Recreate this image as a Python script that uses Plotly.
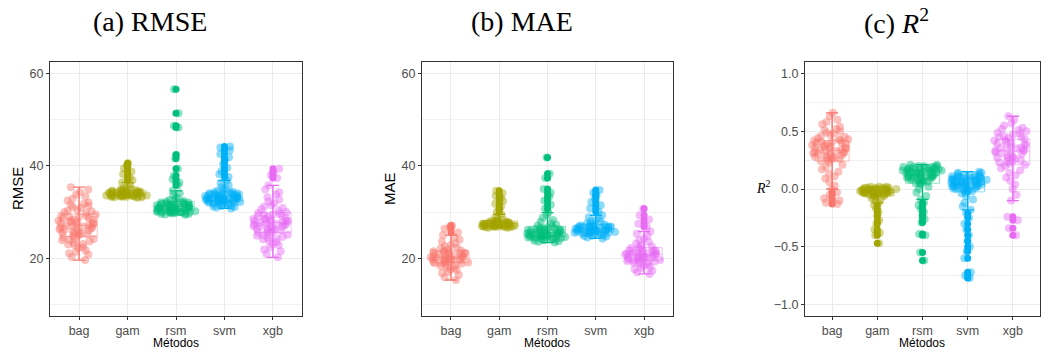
import numpy as np
import plotly.graph_objects as go

methods = ["bag", "gam", "rsm", "svm", "xgb"]
colors = ["#F8766D", "#A3A500", "#00BF7D", "#00B0F6", "#E76BF3"]

rmse_ticks = [20, 40, 60]
r2_ticks = [-1.0, -0.5, 0.0, 0.5, 1.0]

rmse_bag = [19.6, 20.3, 20.8, 21.4, 21.7, 22.2, 22.4, 22.9, 23.1, 23.4, 23.7, 23.9, 24.2, 24.4, 24.5,
            24.8, 25.0, 25.2, 25.3, 25.6, 25.7, 25.9, 26.1, 26.2, 26.3, 26.6, 26.7, 26.8, 27.0, 27.1,
            27.3, 27.4, 27.6, 27.8, 27.9, 28.1, 28.2, 28.4, 28.6, 28.7, 28.9, 29.1, 29.2, 29.5, 29.8,
            30.0, 30.3, 30.5, 30.9, 31.1, 31.4, 31.8, 32.1, 32.5, 32.9, 33.4, 33.8, 34.3, 34.9, 35.4,
            23.0, 24.0, 25.4, 26.0, 26.5, 27.2, 27.7, 28.3, 29.0, 30.2, 31.6, 21.1]
rmse_gam = [33.1, 33.2, 33.2, 33.3, 33.3, 33.3, 33.4, 33.4, 33.5, 33.5, 33.5, 33.6, 33.6, 33.6, 33.7,
            33.7, 33.8, 33.8, 33.8, 33.9, 33.9, 34.0, 34.0, 34.0, 34.1, 34.1, 34.2, 34.2, 34.2, 34.3,
            34.3, 34.4, 34.4, 34.5, 34.5, 34.6, 34.6, 34.7, 34.8, 34.8, 34.9, 35.0, 35.2, 35.5, 35.9,
            36.4, 36.9, 37.5, 38.2, 38.8, 39.5, 40.1, 40.6, 33.3, 33.5, 33.7, 33.9, 34.1, 34.3, 34.5]
rmse_rsm = [29.4, 29.5, 29.6, 29.7, 29.7, 29.8, 29.9, 29.9, 30.0, 30.0, 30.1, 30.1, 30.2, 30.2, 30.3,
            30.3, 30.4, 30.4, 30.5, 30.5, 30.6, 30.6, 30.7, 30.7, 30.8, 30.8, 30.9, 30.9, 31.0, 31.0,
            31.1, 31.1, 31.2, 31.3, 31.3, 31.4, 31.4, 31.5, 31.6, 31.6, 31.7, 31.8, 31.8, 31.9, 32.0,
            32.1, 32.1, 32.2, 32.3, 32.4, 32.6, 32.9, 33.2, 33.6, 34.1, 34.6, 35.8, 36.4, 37.1, 37.9,
            39.4, 41.6, 42.4, 48.3, 48.7, 51.4, 56.6, 30.0, 30.4, 30.8, 31.2, 31.5, 31.9, 29.6]
rmse_svm = [30.8, 31.0, 31.1, 31.2, 31.3, 31.4, 31.5, 31.6, 31.7, 31.8, 31.9, 32.0, 32.0, 32.1, 32.2,
            32.3, 32.3, 32.4, 32.5, 32.5, 32.6, 32.7, 32.7, 32.8, 32.9, 32.9, 33.0, 33.1, 33.1, 33.2,
            33.3, 33.3, 33.4, 33.5, 33.5, 33.6, 33.7, 33.8, 33.8, 33.9, 34.0, 34.1, 34.2, 34.3, 34.4,
            34.6, 34.8, 35.1, 35.4, 35.8, 36.3, 36.8, 37.6, 38.2, 38.9, 39.6, 40.4, 41.2, 41.9, 42.6,
            43.4, 44.0, 44.2, 32.1, 32.4, 32.6, 32.8, 33.0, 33.2, 33.4, 33.6, 33.9, 34.1, 33.0, 32.6]
rmse_xgb = [20.2, 20.9, 21.5, 21.9, 22.4, 22.8, 23.1, 23.5, 23.8, 24.1, 24.4, 24.6, 24.9, 25.1, 25.3,
            25.5, 25.8, 26.0, 26.2, 26.4, 26.6, 26.8, 26.9, 27.1, 27.3, 27.4, 27.6, 27.8, 27.9, 28.1,
            28.3, 28.4, 28.6, 28.8, 29.0, 29.2, 29.4, 29.6, 29.8, 30.0, 30.3, 30.6, 30.9, 31.2, 31.5,
            31.9, 32.3, 32.7, 33.2, 33.8, 34.3, 34.9, 35.8, 37.4, 38.0, 38.7, 39.4,
            24.3, 25.0, 25.6, 26.1, 26.5, 27.0, 27.5, 28.0, 28.5, 29.1, 29.5, 26.9, 27.7, 28.2]

mae_bag = [15.3, 15.9, 16.4, 16.8, 17.1, 17.4, 17.6, 17.9, 18.1, 18.3, 18.5, 18.7, 18.8, 18.9, 19.0,
           19.2, 19.3, 19.4, 19.5, 19.6, 19.8, 19.9, 20.0, 20.1, 20.2, 20.3, 20.4, 20.5, 20.6, 20.8,
           20.9, 21.0, 21.1, 21.2, 21.3, 21.4, 21.5, 21.6, 21.7, 21.9, 22.1, 22.3, 22.6, 22.9, 23.2,
           23.6, 24.0, 24.5, 25.0, 25.6, 26.4, 26.8, 27.1, 19.1, 19.7, 20.2, 20.7, 21.2, 20.0, 19.4]
mae_gam = [26.6, 26.6, 26.7, 26.7, 26.8, 26.8, 26.8, 26.9, 26.9, 26.9, 27.0, 27.0, 27.0, 27.1, 27.1,
           27.1, 27.2, 27.2, 27.3, 27.3, 27.3, 27.4, 27.4, 27.5, 27.5, 27.5, 27.6, 27.6, 27.7, 27.7,
           27.8, 27.8, 27.9, 27.9, 28.0, 28.1, 28.2, 28.4, 28.6, 28.9, 29.5, 30.0, 30.6, 31.2, 31.8,
           32.4, 33.0, 33.5, 34.1, 34.6, 27.2, 27.4, 27.6, 27.8, 27.0, 26.9, 27.3, 27.5]
mae_rsm = [23.4, 23.6, 23.7, 23.8, 23.9, 24.0, 24.1, 24.2, 24.2, 24.3, 24.4, 24.4, 24.5, 24.6, 24.6,
           24.7, 24.8, 24.9, 24.9, 25.0, 25.1, 25.2, 25.2, 25.3, 25.4, 25.5, 25.5, 25.6, 25.7, 25.8,
           25.9, 26.0, 26.1, 26.2, 26.3, 26.4, 26.5, 26.6, 26.7, 26.9, 27.1, 27.3, 27.6, 27.9, 28.3,
           28.8, 29.3, 29.9, 30.7, 31.6, 32.5, 33.3, 34.2, 35.0, 37.4, 38.3, 41.8,
           24.8, 25.0, 25.3, 25.6, 25.9, 26.2, 26.4, 25.1, 24.7, 25.7, 26.0, 24.3]
mae_svm = [24.3, 24.5, 24.7, 24.8, 24.9, 25.0, 25.1, 25.2, 25.3, 25.3, 25.4, 25.5, 25.5, 25.6, 25.7,
           25.7, 25.8, 25.9, 25.9, 26.0, 26.1, 26.1, 26.2, 26.3, 26.3, 26.4, 26.5, 26.5, 26.6, 26.7,
           26.7, 26.8, 26.9, 26.9, 27.0, 27.1, 27.2, 27.3, 27.4, 27.6, 27.8, 28.0, 28.3, 28.6, 28.9,
           29.3, 30.1, 30.8, 31.5, 32.2, 32.9, 33.6, 34.2, 34.8, 25.4, 25.8, 26.0, 26.2, 26.4, 26.6,
           26.8, 27.0]
mae_xgb = [16.6, 17.0, 17.3, 17.6, 17.9, 18.1, 18.3, 18.6, 18.8, 19.0, 19.1, 19.3, 19.4, 19.5, 19.7,
           19.8, 19.9, 20.1, 20.2, 20.3, 20.4, 20.6, 20.7, 20.8, 20.9, 21.0, 21.2, 21.3, 21.4, 21.6,
           21.7, 21.9, 22.0, 22.2, 22.4, 22.6, 22.9, 23.2, 23.5, 23.9, 24.3, 24.8, 25.3, 25.8, 26.8,
           27.5, 28.4, 29.3, 30.7, 19.6, 20.0, 20.5, 21.1, 21.5, 21.8, 20.8, 19.2, 20.3, 21.0]

r2_bag = [-0.13, -0.12, -0.10, -0.08, -0.05, -0.03, 0.00, 0.03, 0.06, 0.09, 0.11, 0.13, 0.15, 0.17,
          0.19, 0.21, 0.23, 0.24, 0.25, 0.26, 0.27, 0.28, 0.29, 0.30, 0.31, 0.32, 0.33, 0.33, 0.34,
          0.35, 0.36, 0.36, 0.37, 0.38, 0.39, 0.39, 0.40, 0.41, 0.41, 0.42, 0.43, 0.44, 0.45, 0.46,
          0.47, 0.48, 0.49, 0.50, 0.51, 0.52, 0.54, 0.56, 0.58, 0.60, 0.63, 0.66,
          0.26, 0.28, 0.30, 0.32, 0.34, 0.35, 0.37, 0.38, 0.40, 0.42, 0.43, 0.29, 0.31, 0.27]
r2_gam = [-0.47, -0.40, -0.38, -0.35, -0.30, -0.27, -0.23, -0.20, -0.17, -0.14, -0.12, -0.10, -0.09,
          -0.08, -0.07, -0.06, -0.06, -0.05, -0.05, -0.05, -0.04, -0.04, -0.04, -0.04, -0.03, -0.03,
          -0.03, -0.03, -0.03, -0.02, -0.02, -0.02, -0.02, -0.02, -0.01, -0.01, -0.01, -0.01, -0.01,
          -0.01, 0.00, 0.00, 0.00, 0.00, 0.00, 0.00, 0.01, 0.01, 0.01, 0.01, 0.01, 0.02, 0.02, 0.02,
          -0.05, -0.04, -0.03, -0.02, -0.01, -0.04, -0.03, -0.02]
r2_rsm = [-0.62, -0.55, -0.40, -0.39, -0.29, -0.26, -0.23, -0.20, -0.17, -0.14, -0.12, -0.09, -0.06,
          -0.03, 0.00, 0.02, 0.04, 0.05, 0.06, 0.07, 0.08, 0.08, 0.09, 0.10, 0.10, 0.11, 0.11, 0.12,
          0.12, 0.13, 0.13, 0.14, 0.14, 0.15, 0.15, 0.15, 0.16, 0.16, 0.16, 0.17, 0.17, 0.17, 0.18,
          0.18, 0.18, 0.19, 0.19, 0.19, 0.20, 0.20, 0.20, 0.21, 0.21,
          0.06, 0.07, 0.09, 0.10, 0.11, 0.12, 0.13, 0.14, 0.15, 0.16, 0.17, 0.18, 0.19, 0.08, 0.12,
          0.14, 0.16, 0.05, 0.09, 0.11]
r2_svm = [-0.77, -0.75, -0.72, -0.60, -0.54, -0.50, -0.45, -0.40, -0.35, -0.30, -0.25, -0.21, -0.18,
          -0.15, -0.12, -0.09, -0.06, -0.04, -0.03, -0.02, -0.01, 0.00, 0.00, 0.01, 0.02, 0.02, 0.03,
          0.03, 0.04, 0.04, 0.05, 0.05, 0.06, 0.06, 0.07, 0.07, 0.08, 0.08, 0.09, 0.09, 0.10, 0.10,
          0.11, 0.11, 0.12, 0.12, 0.13, 0.13, 0.14, 0.14, 0.15,
          0.00, 0.01, 0.02, 0.03, 0.04, 0.05, 0.06, 0.07, 0.08, 0.09, 0.10, 0.11, 0.12, -0.01, -0.02,
          0.03, 0.05, 0.07, 0.09, 0.01, 0.04, 0.06, 0.08, 0.10]
r2_xgb = [-0.40, -0.34, -0.27, -0.24, -0.10, -0.05, 0.00, 0.04, 0.07, 0.10, 0.12, 0.14, 0.16, 0.18,
          0.20, 0.21, 0.22, 0.23, 0.24, 0.25, 0.26, 0.27, 0.28, 0.29, 0.30, 0.31, 0.32, 0.33, 0.34,
          0.35, 0.35, 0.36, 0.37, 0.38, 0.39, 0.40, 0.41, 0.42, 0.43, 0.44, 0.45, 0.46, 0.47, 0.48,
          0.49, 0.50, 0.51, 0.52, 0.53, 0.55, 0.57, 0.60, 0.63,
          0.24, 0.27, 0.30, 0.33, 0.36, 0.39, 0.42, 0.45]

panels = [
    ("x", "y", [rmse_bag, rmse_gam, rmse_rsm, rmse_svm, rmse_xgb]),
    ("x2", "y2", [mae_bag, mae_gam, mae_rsm, mae_svm, mae_xgb]),
    ("x3", "y3", [r2_bag, r2_gam, r2_rsm, r2_svm, r2_xgb]),
]


def rgba(hex_color, a):
    h = hex_color.lstrip("#")
    return f"rgba({int(h[0:2], 16)},{int(h[2:4], 16)},{int(h[4:6], 16)},{a})"


def box_stats(vals):
    v = np.asarray(vals, dtype=float)
    q1, med, q3 = np.percentile(v, [25, 50, 75])
    iqr = q3 - q1
    inside = v[(v >= q1 - 1.5 * iqr) & (v <= q3 + 1.5 * iqr)]
    lo, hi = inside.min(), inside.max()
    outs = v[(v < lo) | (v > hi)]
    return q1, med, q3, lo, hi, outs


fig = go.Figure()
for xa, ya, series in panels:
    stats = [box_stats(v) for v in series]
    # faint box body (mostly hidden by the points)
    for m, c, (q1, med, q3, lo, hi, outs) in zip(methods, colors, stats):
        fig.add_trace(go.Box(
            x=[m], q1=[q1], median=[med], q3=[q3], lowerfence=[lo], upperfence=[hi],
            xaxis=xa, yaxis=ya, width=0.75, whiskerwidth=0,
            line=dict(color=rgba(c, 0.45), width=1), fillcolor="rgba(0,0,0,0)",
            boxpoints=False, showlegend=False, hoverinfo="skip"))
    # jittered points
    for m, c, vals in zip(methods, colors, series):
        fig.add_trace(go.Box(
            x=[m] * len(vals), y=vals, xaxis=xa, yaxis=ya,
            boxpoints="all", pointpos=0, jitter=1,
            width=0.9, whiskerwidth=0,
            line=dict(color="rgba(0,0,0,0)", width=0), fillcolor="rgba(0,0,0,0)",
            marker=dict(color=c, size=8, opacity=0.45, line=dict(width=0)),
            showlegend=False, hoverinfo="skip"))
    # errorbar whiskers and solid outliers
    for m, c, (q1, med, q3, lo, hi, outs) in zip(methods, colors, stats):
        fig.add_trace(go.Scatter(
            x=[m], y=[(lo + hi) / 2], xaxis=xa, yaxis=ya, mode="markers",
            marker=dict(size=0.1, color=c, opacity=0),
            error_y=dict(type="data", array=[(hi - lo) / 2], visible=True,
                         color=c, thickness=1.3, width=6),
            showlegend=False, hoverinfo="skip"))
        if len(outs):
            fig.add_trace(go.Scatter(
                x=[m] * len(outs), y=list(outs), xaxis=xa, yaxis=ya, mode="markers",
                marker=dict(color=c, size=7, opacity=1, line=dict(width=0)),
                showlegend=False, hoverinfo="skip"))

W, H = 1041, 350
ydom = [(H - 316) / H, (H - 62) / H]
xdoms = [[50 / W, 302 / W], [422 / W, 673 / W], [805 / W, 1040 / W]]

tickfont = dict(family="Liberation Sans, Arial, sans-serif", size=12.5, color="#4D4D4D")
common_x = dict(type="category", categoryorder="array", categoryarray=methods,
                range=[-0.6, 4.6], showgrid=True, gridcolor="#EBEBEB", gridwidth=1,
                ticks="outside", ticklen=3, tickcolor="#333333", tickwidth=1,
                showline=True, linecolor="#333333", linewidth=1, mirror=True,
                tickfont=tickfont, zeroline=False, fixedrange=True)
common_y = dict(showgrid=True, gridcolor="#EBEBEB", gridwidth=1,
                ticks="outside", ticklen=3, tickcolor="#333333", tickwidth=1,
                showline=True, linecolor="#333333", linewidth=1, mirror=True,
                tickfont=tickfont, zeroline=False)

layout = dict(width=W, height=H, margin=dict(l=0, r=0, t=0, b=0),
              paper_bgcolor="white", plot_bgcolor="white", boxmode="overlay")
for i, (xa, ya, _) in enumerate(panels):
    xk = "xaxis" if i == 0 else f"xaxis{i+1}"
    yk = "yaxis" if i == 0 else f"yaxis{i+1}"
    layout[xk] = dict(common_x, domain=xdoms[i], anchor=ya)
    if i < 2:
        layout[yk] = dict(common_y, domain=ydom, anchor=xa, range=[7.5, 62.5],
                          tickvals=rmse_ticks,
                          minor=dict(tickvals=[10, 30, 50], showgrid=True,
                                     gridcolor="#F2F2F2", gridwidth=0.8, ticks=""))
    else:
        layout[yk] = dict(common_y, domain=ydom, anchor=xa, range=[-1.1, 1.1],
                          tickvals=r2_ticks, tickformat=".1f",
                          minor=dict(tickvals=[-0.75, -0.25, 0.25, 0.75], showgrid=True,
                                     gridcolor="#F2F2F2", gridwidth=0.8, ticks=""))
fig.update_layout(**layout)

serif = "Liberation Serif, Times New Roman, serif"
sans = "Liberation Sans, Arial, sans-serif"
ann = []
for txt, xc in [("(a) RMSE", 150), ("(b) MAE", 522), ("(c) <i>R</i><sup>2</sup>", 896)]:
    ann.append(dict(text=txt, x=xc / W, y=1 - 22 / H, xref="paper", yref="paper",
                    showarrow=False, xanchor="center", yanchor="middle",
                    font=dict(family=serif, size=28, color="black")))
ann.append(dict(text="RMSE", x=17 / W, y=1 - 189 / H, xref="paper", yref="paper",
                showarrow=False, textangle=-90, xanchor="center", yanchor="middle",
                font=dict(family=sans, size=15, color="black")))
ann.append(dict(text="MAE", x=389 / W, y=1 - 189 / H, xref="paper", yref="paper",
                showarrow=False, textangle=-90, xanchor="center", yanchor="middle",
                font=dict(family=sans, size=15, color="black")))
ann.append(dict(text="<i>R</i><sup>2</sup>", x=763 / W, y=1 - 187 / H, xref="paper", yref="paper",
                showarrow=False, xanchor="center", yanchor="middle",
                font=dict(family=serif, size=14, color="black")))
for xc in [176, 547, 922]:
    ann.append(dict(text="Métodos", x=xc / W, y=1 - 343 / H, xref="paper", yref="paper",
                    showarrow=False, xanchor="center", yanchor="middle",
                    font=dict(family=sans, size=12, color="black")))
fig.update_layout(annotations=ann)

fig.write_html("out.html")
